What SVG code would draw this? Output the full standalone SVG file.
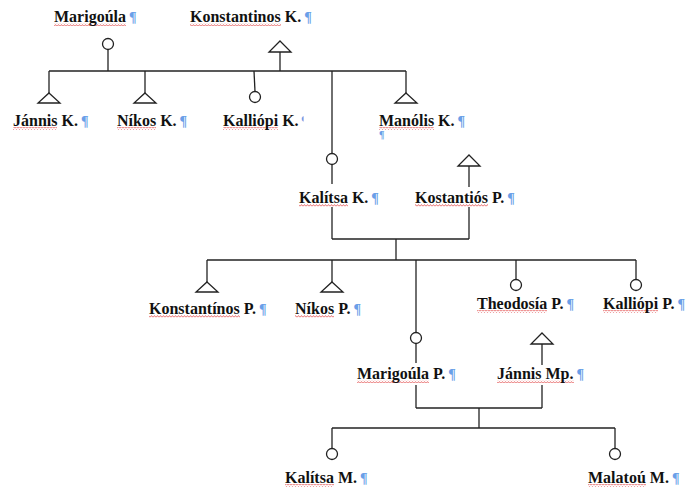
<svg xmlns="http://www.w3.org/2000/svg" width="688" height="493" viewBox="0 0 688 493">
<style>
.t{font-family:"Liberation Serif","Times New Roman",serif;font-weight:bold;font-size:16px;fill:#111}
.p{font-family:"Liberation Serif","Times New Roman",serif;font-weight:bold;font-size:14px;fill:#6a9fe8}
.ln{stroke:#222;stroke-width:1.3;fill:none}
.sym{stroke:#222;stroke-width:1.3;fill:#fff}
.sq{fill:url(#squig)}
</style>
<defs>
<pattern id="squig" width="3" height="3" patternUnits="userSpaceOnUse">
<path d="M0,2.4 L1.5,0.6 L3,2.4" stroke="#e03535" stroke-width="0.7" fill="none"/>
</pattern>
<clipPath id="clipK"><rect x="301" y="110" width="2.6" height="20"/></clipPath>
</defs>
<rect width="688" height="493" fill="#fff"/>

<g id="connectors">
<line class="ln" x1="108" y1="49.5" x2="108" y2="71"/>
<line class="ln" x1="280" y1="52" x2="280" y2="71"/>
<line class="ln" x1="49" y1="71" x2="406" y2="71"/>
<line class="ln" x1="49" y1="71" x2="49" y2="93"/>
<line class="ln" x1="145" y1="71" x2="145" y2="93"/>
<line class="ln" x1="254" y1="71" x2="255" y2="91.5"/>
<line class="ln" x1="406" y1="71" x2="406" y2="93"/>
<line class="ln" x1="332" y1="71" x2="332" y2="153.5"/>
<line class="ln" x1="332" y1="164.5" x2="332" y2="184"/>
<line class="ln" x1="469" y1="166" x2="469" y2="187"/>
<line class="ln" x1="332" y1="207" x2="332" y2="239"/>
<line class="ln" x1="469" y1="207" x2="469" y2="239"/>
<line class="ln" x1="332" y1="239" x2="469" y2="239"/>
<line class="ln" x1="396" y1="239" x2="396" y2="260"/>
<line class="ln" x1="207" y1="260" x2="636" y2="260"/>
<line class="ln" x1="207" y1="260" x2="207" y2="282"/>
<line class="ln" x1="332" y1="260" x2="332" y2="282"/>
<line class="ln" x1="416" y1="260" x2="416" y2="332.5"/>
<line class="ln" x1="416" y1="343.5" x2="416" y2="363"/>
<line class="ln" x1="516" y1="260" x2="516" y2="279.5"/>
<line class="ln" x1="636" y1="260" x2="636" y2="279.5"/>
<line class="ln" x1="542" y1="344" x2="542" y2="365"/>
<line class="ln" x1="416" y1="385" x2="416" y2="408"/>
<line class="ln" x1="542" y1="385" x2="542" y2="408"/>
<line class="ln" x1="416" y1="408" x2="542" y2="408"/>
<line class="ln" x1="479" y1="408" x2="479" y2="428"/>
<line class="ln" x1="332" y1="428" x2="615" y2="428"/>
<line class="ln" x1="332" y1="428" x2="332" y2="448.5"/>
<line class="ln" x1="615" y1="428" x2="615" y2="448.5"/>
</g>

<g id="marigoula">
<circle class="sym" cx="108" cy="44" r="5.5"/>
<rect class="sq" x="54" y="23" width="72" height="3"/>
<text class="t" x="54" y="22">Marigoúla<tspan class="p" dx="3">¶</tspan></text>
</g>
<g id="konstantinos-k">
<path class="sym" d="M280,41 L291,52 L269,52 Z"/>
<rect class="sq" x="190" y="23" width="91" height="3"/>
<text class="t" x="190" y="22">Konstantinos K.<tspan class="p" dx="3">¶</tspan></text>
</g>
<g id="jannis-k">
<path class="sym" d="M49,93 L60,103 L38,103 Z"/>
<rect class="sq" x="13" y="127" width="44" height="3"/>
<text class="t" x="13" y="126">Jánnis K.<tspan class="p" dx="3">¶</tspan></text>
</g>
<g id="nikos-k">
<path class="sym" d="M145,93 L156,103 L134,103 Z"/>
<rect class="sq" x="117" y="127" width="39" height="3"/>
<text class="t" x="117" y="126">Níkos K.<tspan class="p" dx="3">¶</tspan></text>
</g>
<g id="kalliopi-k">
<circle class="sym" cx="255" cy="97" r="5.5"/>
<rect class="sq" x="223" y="127" width="55" height="3"/>
<text class="t" x="223" y="126">Kalliópi K.</text>
<text class="p" x="301" y="126" clip-path="url(#clipK)">¶</text>
</g>
<g id="manolis-k">
<path class="sym" d="M406,93 L417,103 L395,103 Z"/>
<rect class="sq" x="379" y="127" width="55" height="3"/>
<text class="t" x="379" y="126">Manólis K.<tspan class="p" dx="3">¶</tspan></text>
<text class="p" x="379" y="138" style="font-size:10px">¶</text>
</g>
<g id="kalitsa-k">
<circle class="sym" cx="332" cy="159" r="5.5"/>
<rect class="sq" x="299" y="204" width="49" height="3"/>
<text class="t" x="299" y="203">Kalítsa K.<tspan class="p" dx="3">¶</tspan></text>
</g>
<g id="kostantios-p">
<path class="sym" d="M469,155 L480,166 L458,166 Z"/>
<rect class="sq" x="415" y="204" width="73" height="3"/>
<text class="t" x="415" y="203">Kostantiós P.<tspan class="p" dx="3">¶</tspan></text>
</g>
<g id="konstantinos-p">
<path class="sym" d="M207,282 L218,292 L196,292 Z"/>
<rect class="sq" x="149" y="315" width="91" height="3"/>
<text class="t" x="149" y="314">Konstantínos P.<tspan class="p" dx="3">¶</tspan></text>
</g>
<g id="nikos-p">
<path class="sym" d="M332,282 L343,292 L321,292 Z"/>
<rect class="sq" x="295" y="315" width="39" height="3"/>
<text class="t" x="295" y="314">Níkos P.<tspan class="p" dx="3">¶</tspan></text>
</g>
<g id="theodosia-p">
<circle class="sym" cx="516" cy="285" r="5.5"/>
<rect class="sq" x="477" y="310" width="70" height="3"/>
<text class="t" x="477" y="309">Theodosía P.<tspan class="p" dx="3">¶</tspan></text>
</g>
<g id="kalliopi-p">
<circle class="sym" cx="636" cy="285" r="5.5"/>
<rect class="sq" x="603" y="310" width="55" height="3"/>
<text class="t" x="603" y="309">Kalliópi P.<tspan class="p" dx="3">¶</tspan></text>
</g>
<g id="marigoula-p">
<circle class="sym" cx="416" cy="338" r="5.5"/>
<rect class="sq" x="357" y="380" width="72" height="3"/>
<text class="t" x="357" y="379">Marigoúla P.<tspan class="p" dx="3">¶</tspan></text>
</g>
<g id="jannis-mp">
<path class="sym" d="M542,333 L553,344 L531,344 Z"/>
<rect class="sq" x="497" y="380" width="77" height="3"/>
<text class="t" x="497" y="379">Jánnis Mp.<tspan class="p" dx="3">¶</tspan></text>
</g>
<g id="kalitsa-m">
<circle class="sym" cx="332" cy="454" r="5.5"/>
<rect class="sq" x="285" y="484" width="49" height="3"/>
<text class="t" x="285" y="483">Kalítsa M.<tspan class="p" dx="3">¶</tspan></text>
</g>
<g id="malatou-m">
<circle class="sym" cx="615" cy="454" r="5.5"/>
<rect class="sq" x="588" y="484" width="58" height="3"/>
<text class="t" x="588" y="483">Malatoú M.<tspan class="p" dx="3">¶</tspan></text>
</g>
</svg>
